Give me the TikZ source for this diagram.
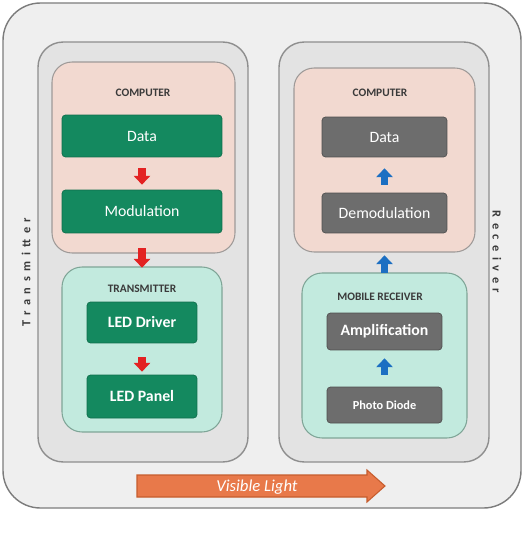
\documentclass[tikz,border=0pt]{standalone}
\usepackage{fontspec}
\setmainfont{Carlito}
\usepackage{xcolor}
\definecolor{framegrey}{HTML}{EFEFEF}
\definecolor{frameline}{HTML}{7C7C7C}
\definecolor{panelgrey}{HTML}{E3E3E3}
\definecolor{panelline}{HTML}{8E8E8E}
\definecolor{pcpink}{HTML}{F2D9D0}
\definecolor{pcline}{HTML}{9E9A98}
\definecolor{txcyan}{HTML}{C2EADE}
\definecolor{txline}{HTML}{7FA597}
\definecolor{txgreen}{HTML}{14895F}
\definecolor{rxgrey}{HTML}{6D6D6D}
\definecolor{rxline}{HTML}{505050}
\definecolor{arrowred}{HTML}{E32222}
\definecolor{arrowblue}{HTML}{1C6FC2}
\definecolor{lightorange}{HTML}{E8794A}
\definecolor{lightline}{HTML}{C65C2D}
\definecolor{labelgrey}{HTML}{3A3A3A}
\usetikzlibrary{arrows.meta, positioning}

\begin{document}
\begin{tikzpicture}[x=0.02cm, y=-0.02cm,
  panel/.style={draw=panelline, fill=panelgrey, line width=0.8pt, rounded corners=0.5cm, minimum width=4.2cm, minimum height=8.4cm},
  pcbox/.style={draw=pcline, fill=pcpink, line width=0.6pt, rounded corners=0.4cm},
  txbox/.style={draw=txline, fill=txcyan, line width=0.6pt, rounded corners=0.4cm},
  greenbox/.style={fill=txgreen, draw=txgreen!80!black, rounded corners=2pt, text=white, font=\fontsize{9}{10}\selectfont},
  greybox/.style={fill=rxgrey, draw=rxline, rounded corners=2pt, text=white, font=\fontsize{9}{10}\selectfont},
  boxtitle/.style={font=\fontsize{6.5}{7}\selectfont\bfseries, text=labelgrey},
  sidetitle/.style={font=\fontsize{7}{8}\selectfont\bfseries\addfontfeature{LetterSpace=45}, text=labelgrey},
  redarrow/.style={draw=arrowred, line width=4.5pt, -{Triangle[width=9.5pt, length=5pt, line width=0pt]}},
  bluearrow/.style={draw=arrowblue, line width=4.5pt, -{Triangle[width=9.5pt, length=5pt, line width=0pt]}}
]
  \useasboundingbox (0,0) rectangle (524,544);

  % outer frame
  \draw[fill=framegrey, draw=frameline, line width=0.8pt, rounded corners=0.75cm] (3,3) rectangle (521,508);

  \node[sidetitle, rotate=90] (txname) at (26,272) {Transmitter};
  \node[sidetitle, rotate=-90] (rxname) at (497,252) {Receiver};

  % ---------- LEFT PANEL: transmitter ----------
  \node[panel] (leftpanel) at (143,252) {};
  \node[pcbox, minimum width=3.66cm, minimum height=3.82cm] (pcL) at (143.5,157.5) {};
  \node[boxtitle] (pcLname) at (143,93) {COMPUTER};
  \node[greenbox, minimum width=3.2cm, minimum height=0.84cm] (dataL) at (142,136) {Data};
  \node[greenbox, minimum width=3.2cm, minimum height=0.86cm] (modL) at (142,211.5) {Modulation};

  \node[txbox, minimum width=3.2cm, minimum height=3.3cm] (txL) at (142,349.5) {};
  \node[boxtitle] (txLname) at (142,289) {TRANSMITTER};
  \node[greenbox, font=\fontsize{9}{10}\selectfont\bfseries, minimum width=2.2cm, minimum height=0.82cm] (drvL) at (142,322.5) {LED Driver};
  \node[greenbox, font=\fontsize{9}{10}\selectfont\bfseries, minimum width=2.2cm, minimum height=0.86cm] (ledL) at (142,396.5) {LED Panel};

  \draw[redarrow, shorten <=0.22cm, shorten >=0.1cm] (dataL) -- (modL);
  \draw[redarrow, shorten <=0.3cm, shorten >=0.68cm] (modL) -- (drvL);
  \draw[redarrow, shorten <=0.28cm, shorten >=0.06cm] (drvL) -- (ledL);

  % ---------- RIGHT PANEL: receiver ----------
  \node[panel] (rightpanel) at (384,252) {};
  \node[pcbox, minimum width=3.62cm, minimum height=3.68cm] (pcR) at (384.5,160) {};
  \node[boxtitle] (pcRname) at (380,93) {COMPUTER};
  \node[greybox, minimum width=2.5cm, minimum height=0.8cm] (dataR) at (384.5,137) {Data};
  \node[greybox, minimum width=2.5cm, minimum height=0.8cm] (demodR) at (384.5,213) {Demodulation};

  \node[txbox, minimum width=3.3cm, minimum height=3.3cm] (rxR) at (384.5,355.5) {};
  \node[boxtitle] (rxRname) at (380,297) {MOBILE RECEIVER};
  \node[greybox, font=\fontsize{9}{10}\selectfont\bfseries, minimum width=2.3cm, minimum height=0.74cm] (ampR) at (384.5,331.5) {Amplification};
  \node[greybox, font=\fontsize{7}{8}\selectfont\bfseries, minimum width=2.3cm, minimum height=0.72cm] (pdR) at (384.5,405) {Photo Diode};

  \draw[bluearrow, shorten <=0.16cm, shorten >=0.22cm] (demodR) -- (dataR);
  \draw[bluearrow, shorten <=0.8cm, shorten >=0.44cm] (ampR) -- (demodR);
  \draw[bluearrow, shorten <=0.24cm, shorten >=0.16cm] (pdR) -- (ampR);

  % visible light arrow
  \draw[fill=lightorange, draw=lightline, line width=0.6pt]
    (137,475) -- (367,475) -- (367,470) -- (385,486) -- (367,502) -- (367,497) -- (137,497) -- cycle;
  \node[font=\fontsize{9.5}{10}\selectfont\itshape, text=white] (lightname) at (257,487) {Visible Light};

\end{tikzpicture}
\end{document}
